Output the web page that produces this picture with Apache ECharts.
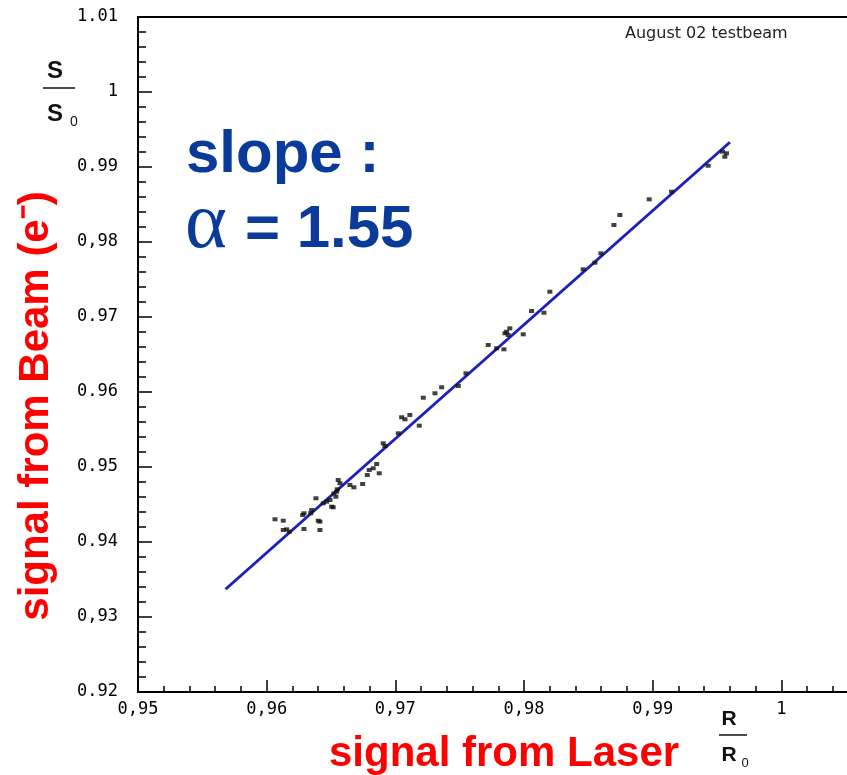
<!DOCTYPE html>
<html>
<head>
    <meta charset="utf-8">
    <title>signal from Beam vs signal from Laser</title>
    <script src="https://cdn.jsdelivr.net/npm/echarts@6/dist/echarts.min.js"></script>
    <style>
        html, body { margin: 0; padding: 0; background: #fff; }
    </style>
</head>
<body>
<div id="main" style="width: 847px;height:775px;"></div>
<script type="text/javascript">
    // measured points : R/R0 (laser) and S/S0 (beam)
    var laserRatio = [0.96065, 0.96129, 0.96129, 0.96155, 0.96176, 0.9629, 0.9629, 0.9628, 0.9635, 0.96342,
        0.96383, 0.96401, 0.96414, 0.96414, 0.9644, 0.96466, 0.96492, 0.96505, 0.96517, 0.96523,
        0.96544, 0.96538, 0.96549, 0.96556, 0.9657, 0.96647, 0.96678, 0.96746, 0.96782, 0.96797,
        0.96828, 0.96855, 0.96875, 0.96906, 0.96919, 0.97023, 0.97049, 0.97075, 0.97113, 0.97186,
        0.97217, 0.97308, 0.9736, 0.97489, 0.97549, 0.97722, 0.97787, 0.97844, 0.97852, 0.97865,
        0.9789, 0.97877, 0.97994, 0.98059, 0.98155, 0.98201, 0.9846, 0.98551, 0.98598, 0.98699,
        0.98745, 0.98973, 0.99147, 0.99431, 0.99543, 0.99574, 0.99561];
    var beamRatio = [0.94303, 0.94284, 0.9416, 0.94169, 0.94137, 0.94173, 0.94383, 0.9436, 0.94427, 0.94383,
        0.94583, 0.94284, 0.94271, 0.9416, 0.94516, 0.94537, 0.9456, 0.94471, 0.94463, 0.94649,
        0.94671, 0.94604, 0.94703, 0.94827, 0.94783, 0.9476, 0.94729, 0.94773, 0.94893, 0.9496,
        0.94983, 0.9504, 0.94916, 0.95316, 0.9528, 0.95449, 0.95663, 0.95636, 0.95693, 0.95551,
        0.95924, 0.95983, 0.96063, 0.9608, 0.96249, 0.96627, 0.96583, 0.96569, 0.96783, 0.96804,
        0.96849, 0.9676, 0.96769, 0.9708, 0.97057, 0.97337, 0.97636, 0.97724, 0.97849, 0.98227,
        0.9836, 0.98569, 0.98671, 0.99017, 0.99204, 0.99183, 0.99137];

    // fitted straight line (slope 1.55)
    var fitX = [0.9568, 0.9960];
    var fitY = [0.9337, 0.9933];

    // tick labels as printed on the plot
    var xTickLabels = ['0,95', '0,96', '0,97', '0,98', '0,99', '1', '1,01'];
    var yTickLabels = ['0.92', '0,93', '0.94', '0.95', '0.96', '0.97', '0,98', '0.99', '1', '1.01'];

    var points = [];
    for (var i = 0; i < laserRatio.length; i++) {
        points.push([laserRatio[i], beamRatio[i]]);
    }
    var fitPoints = [];
    for (var j = 0; j < fitX.length; j++) {
        fitPoints.push([fitX[j], fitY[j]]);
    }

    var tickFont = 'DejaVu Sans Mono';
    var titleFont = 'Liberation Sans, Arial, sans-serif';

    var myChart = echarts.init(document.getElementById('main'));

    var option = {
        backgroundColor: '#fff',
        animation: false,
        grid: {
            left: 138,
            top: 17,
            width: 772,   // plot runs past the right edge of the picture
            height: 675,
            containLabel: false,
            outerBoundsMode: 'none'
        },
        xAxis: [
            {
                type: 'value',
                min: 0.95,
                max: 1.01,
                interval: 0.01,
                axisLine: { lineStyle: { color: '#000', width: 2 } },
                axisTick: { inside: true, length: 12, lineStyle: { color: '#000', width: 1.5 } },
                minorTick: { show: true, splitNumber: 5, length: 6, lineStyle: { color: '#000', width: 1.5 } },
                splitLine: { show: false },
                axisLabel: {
                    margin: 9,
                    fontFamily: tickFont,
                    fontSize: 17,
                    color: '#000',
                    formatter: function (v) {
                        return xTickLabels[Math.round((v - 0.95) / 0.01)];
                    }
                }
            },
            {
                // top frame line
                type: 'value',
                position: 'top',
                min: 0.95,
                max: 1.01,
                axisLine: { lineStyle: { color: '#000', width: 2 } },
                axisTick: { show: false },
                axisLabel: { show: false },
                splitLine: { show: false }
            }
        ],
        yAxis: {
            type: 'value',
            min: 0.92,
            max: 1.01,
            interval: 0.01,
            axisLine: { show: true, lineStyle: { color: '#000', width: 2 } },
            axisTick: { show: true, inside: true, length: 14, lineStyle: { color: '#000', width: 1.5 } },
            minorTick: { show: true, splitNumber: 5, length: 8, lineStyle: { color: '#000', width: 1.5 } },
            splitLine: { show: false },
            axisLabel: {
                margin: 20,
                fontFamily: tickFont,
                fontSize: 17,
                color: '#000',
                formatter: function (v) {
                    return yTickLabels[Math.round((v - 0.92) / 0.01)];
                }
            }
        },
        series: [
            {
                name: 'fit',
                type: 'line',
                data: fitPoints,
                showSymbol: false,
                symbol: 'none',
                lineStyle: { color: '#1f1fbe', width: 3 },
                z: 2
            },
            {
                name: 'data',
                type: 'scatter',
                data: points,
                symbol: 'rect',
                symbolSize: [5, 4],
                itemStyle: { color: '#111' },
                z: 3
            }
        ],
        graphic: [
            // S / S0
            { type: 'text', x: 55, y: 71, style: { text: 'S', font: 'bold 24px ' + titleFont, fill: '#111', align: 'center', verticalAlign: 'middle' } },
            { type: 'line', shape: { x1: 43, y1: 88, x2: 75, y2: 88 }, style: { stroke: '#111', lineWidth: 1.5 } },
            { type: 'text', x: 55, y: 114, style: { text: 'S', font: 'bold 24px ' + titleFont, fill: '#111', align: 'center', verticalAlign: 'middle' } },
            { type: 'text', x: 74, y: 122, style: { text: '0', font: '14px ' + titleFont, fill: '#111', align: 'center', verticalAlign: 'middle' } },
            // R / R0
            { type: 'text', x: 729, y: 719, style: { text: 'R', font: 'bold 21px ' + titleFont, fill: '#111', align: 'center', verticalAlign: 'middle' } },
            { type: 'line', shape: { x1: 719, y1: 735, x2: 747, y2: 735 }, style: { stroke: '#111', lineWidth: 1.5 } },
            { type: 'text', x: 729, y: 755, style: { text: 'R', font: 'bold 21px ' + titleFont, fill: '#111', align: 'center', verticalAlign: 'middle' } },
            { type: 'text', x: 745, y: 763, style: { text: '0', font: '13px ' + titleFont, fill: '#111', align: 'center', verticalAlign: 'middle' } },
            // run note
            { type: 'text', x: 625, y: 26, style: { text: 'August 02 testbeam', font: '16px DejaVu Sans', fill: '#222', align: 'left', verticalAlign: 'top' } },
            // slope
            { type: 'text', x: 186, y: 155, style: { text: 'slope :', font: 'bold 60px ' + titleFont, fill: '#0a3a9a', align: 'left', verticalAlign: 'middle' } },
            { type: 'text', x: 185, y: 226, style: { text: 'α', font: '80px Liberation Serif', fill: '#0a3a9a', align: 'left', verticalAlign: 'middle' } },
            { type: 'text', x: 245, y: 230, style: { text: '= 1.55', font: 'bold 60px ' + titleFont, fill: '#0a3a9a', align: 'left', verticalAlign: 'middle' } },
            // axis titles
            {
                type: 'text', x: 329, y: 754,
                style: {
                    text: 'signal from Laser', font: 'bold 42px ' + titleFont, fill: '#ff0000',
                    align: 'left', verticalAlign: 'middle',
                    shadowColor: 'rgba(0,0,0,0.35)', shadowOffsetX: 2, shadowOffsetY: 2, shadowBlur: 2
                }
            },
            {
                type: 'text', x: 36, y: 406, rotation: Math.PI / 2,
                style: {
                    text: 'signal from Beam (e\u207B)', font: 'bold 42px ' + titleFont, fill: '#ff0000',
                    align: 'center', verticalAlign: 'middle',
                    shadowColor: 'rgba(0,0,0,0.35)', shadowOffsetX: 2, shadowOffsetY: -2, shadowBlur: 2
                }
            }
        ]
    };

    myChart.setOption(option);
</script>
</body>
</html>
